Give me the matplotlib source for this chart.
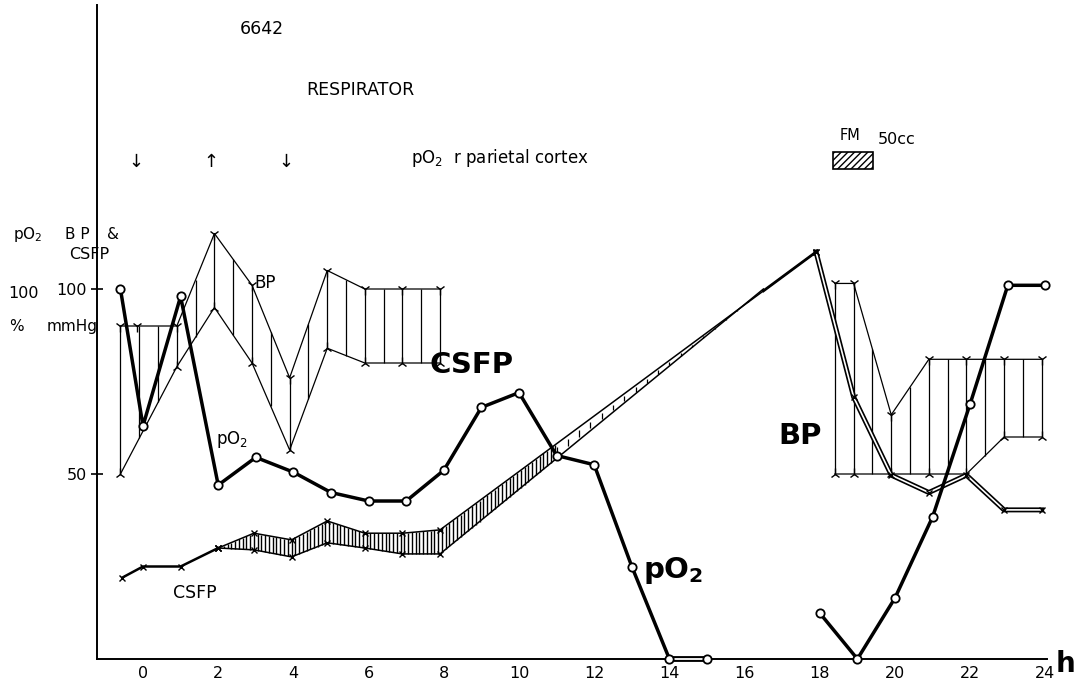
import matplotlib
matplotlib.use("Agg")
import matplotlib.pyplot as plt
import matplotlib.patheffects as pe
from matplotlib.patches import Rectangle
import numpy as np

plt.rcParams['font.family'] = ['DejaVu Sans']

# ---------------- data (hours, values) ----------------
po2_a_hours = [-0.6, 0, 1, 2, 3, 4, 5, 6, 7, 8, 9, 10, 11, 12, 13, 14]
po2_a_vals = [100, 63, 98, 47, 54.5, 50.5, 45, 42.7, 42.7, 51, 68, 72, 55, 52.5, 25, 0]
po2_flat_hours = [14, 15]
po2_flat_vals = [0, 0]
po2_b_hours = [18, 19, 20, 21, 22, 23, 24]
po2_b_vals = [12.4, 0, 16.5, 38.4, 69, 101, 101]

bp_a_upper_hours = [-0.6, -0.15, 0.9, 1.9, 2.9, 3.9, 4.9, 5.9, 6.9, 7.9]
bp_a_upper_vals = [90, 90, 90, 115, 101, 76, 105, 100, 100, 100]
bp_a_lower_hours = [-0.6, 0.9, 1.9, 2.9, 3.9, 4.9, 5.9, 6.9, 7.9]
bp_a_lower_vals = [50, 79, 95, 80, 56.5, 84, 80, 80, 80]

bp_b_upper_hours = [18.4, 18.9, 19.9, 20.9, 21.9, 22.9, 23.9]
bp_b_upper_vals = [101.5, 101.5, 66, 81, 81, 81, 81]
bp_b_lower_hours = [18.4, 18.9, 19.9, 20.9, 21.9, 22.9, 23.9]
bp_b_lower_vals = [50, 50, 50, 50, 50, 60, 60]

csfp_base_hours = [-0.55, 0, 1, 2]
csfp_base_vals = [22, 25, 25, 30]
csfp_upper_hours = [2, 2.95, 3.95, 4.9, 5.9, 6.9, 7.9, 17.9]
csfp_upper_vals = [30, 34, 32.2, 37.3, 34, 34, 34.9, 110]
csfp_lower_hours = [2, 2.95, 3.95, 4.9, 5.9, 6.9, 7.9, 16.5]
csfp_lower_vals = [30, 29.5, 27.6, 31.4, 30, 28.4, 28.4, 100]
csfp_b_hours = [17.9, 18.9, 19.9, 20.9, 21.9, 22.9, 23.9]
csfp_b_vals = [110, 70.8, 49.7, 45, 49.7, 40.3, 40.3]

x_ticks = [0, 2, 4, 6, 8, 10, 12, 14, 16, 18, 20, 22, 24]
x_tick_labels = ['0', '2', '4', '6', '8', '10', '12', '14', '16', '18', '20', '22', '24']
y_ticks = [50, 100]
y_tick_labels = ['50', '100']

resp_arrow_hours = [-0.2, 1.8, 3.8]
resp_arrow_symbols = ['↓', '↑', '↓']

# ---------------- figure ----------------
W, H = 1088, 687
fig = plt.figure(figsize=(W / 100, H / 100), dpi=100)
X0, SX = 143.0, 37.6   # pixel of hour 0, pixels per hour
Y0, SY = 659.0, 3.7    # pixel of value 0, pixels per unit
ax = fig.add_axes([97 / W, (H - Y0) / H, 1 - 97 / W, (Y0 - 5) / H])
ax.set_xlim((97 - X0) / SX, (W - X0) / SX)
ax.set_ylim(0, (Y0 - 5) / SY)


def P(x, y):
    return (x / W, 1 - y / H)


K = 'black'
thin = 0.9

# ---- BP band, first part ----
ax.plot(bp_a_upper_hours, bp_a_upper_vals, color=K, lw=thin, marker='1', ms=8, mew=1)
ax.plot(bp_a_lower_hours, bp_a_lower_vals, color=K, lw=thin, marker='2', ms=8, mew=1)
xs = np.arange(-0.6, 7.95, 0.5)
ax.vlines(xs, np.interp(xs, bp_a_lower_hours, bp_a_lower_vals),
          np.interp(xs, bp_a_upper_hours, bp_a_upper_vals), color=K, lw=thin)

# ---- BP band, second part ----
ax.plot(bp_b_upper_hours, bp_b_upper_vals, color=K, lw=thin, marker='1', ms=8, mew=1)
ax.plot(bp_b_lower_hours, bp_b_lower_vals, color=K, lw=thin, marker='2', ms=8, mew=1)
xs = np.arange(18.4, 23.95, 0.5)
ax.vlines(xs, np.interp(xs, bp_b_lower_hours, bp_b_lower_vals),
          np.interp(xs, bp_b_upper_hours, bp_b_upper_vals), color=K, lw=thin)

# ---- CSFP ----
ax.plot(csfp_base_hours, csfp_base_vals, color=K, lw=1.8, marker='x', ms=5, mew=1)
ax.plot(csfp_upper_hours, csfp_upper_vals, color=K, lw=1.1, marker='x', ms=5, mew=1)
ax.plot(csfp_lower_hours[:-1], csfp_lower_vals[:-1], color=K, lw=1.1, marker='x', ms=5, mew=1)
ax.plot(csfp_lower_hours[-2:], csfp_lower_vals[-2:], color=K, lw=1.1)
xs = np.arange(2.05, 11.0, 0.1)
ax.vlines(xs, np.interp(xs, csfp_lower_hours, csfp_lower_vals),
          np.interp(xs, csfp_upper_hours, csfp_upper_vals), color=K, lw=1.0)
xs = np.arange(11.0, 16.3, 0.3)
lo = np.interp(xs, csfp_lower_hours, csfp_lower_vals)
hi = np.interp(xs, csfp_upper_hours, csfp_upper_vals)
ax.vlines(xs, lo + 0.25 * (hi - lo), hi - 0.25 * (hi - lo), color=K, lw=0.9)
# thick single segment from convergence to the peak
conv_h = csfp_lower_hours[-1]
ax.plot([conv_h, csfp_upper_hours[-1]],
        [np.interp(conv_h, csfp_upper_hours, csfp_upper_vals), csfp_upper_vals[-1]],
        color=K, lw=2.0)

# second part, double line
ax.plot(csfp_b_hours, csfp_b_vals, color='white', lw=1.2, zorder=4,
        path_effects=[pe.Stroke(linewidth=3.6, foreground=K), pe.Normal()])
ax.plot(csfp_b_hours, csfp_b_vals, ls='none', marker='x', ms=5, mew=1, color=K, zorder=5)

# ---- pO2 ----
po2_style = dict(color=K, lw=2.5, marker='o', ms=6, mfc='white', mec=K, mew=1.3,
                 zorder=6, clip_on=False)
ax.plot(po2_a_hours, po2_a_vals, **po2_style)
ax.plot(po2_flat_hours, po2_flat_vals, color='white', lw=1.3, zorder=5, clip_on=False,
        path_effects=[pe.Stroke(linewidth=4.2, foreground=K), pe.Normal()])
ax.plot(po2_flat_hours[-1:], po2_flat_vals[-1:], ls='none', marker='o', ms=6,
        mfc='white', mec=K, mew=1.3, zorder=6, clip_on=False)
ax.plot(po2_b_hours, po2_b_vals, **po2_style)

# ---------------- axes styling ----------------
for s in ['top', 'right']:
    ax.spines[s].set_visible(False)
ax.spines['left'].set_linewidth(1.4)
ax.spines['bottom'].set_linewidth(1.4)
ax.spines['bottom'].set_bounds(ax.get_xlim()[0], 24.05)
ax.set_xticks(x_ticks)
ax.set_xticklabels(x_tick_labels, fontsize=11.5)
ax.tick_params(axis='x', length=0, pad=5)
ax.set_yticks(y_ticks)
ax.set_yticklabels(y_tick_labels, fontsize=11.5)
ax.tick_params(axis='y', direction='inout', length=9, width=1.2, pad=3)

# ---------------- text annotations ----------------
fig.text(*P(262, 29), '6642', fontsize=12.5, ha='center', va='center')
fig.text(*P(360, 90), 'RESPIRATOR', fontsize=12.5, ha='center', va='center')
for h, sym in zip(resp_arrow_hours, resp_arrow_symbols):
    ax.text(h, (Y0 - 162) / SY, sym, fontsize=13, ha='center', va='center')
fig.text(*P(411, 158), r'p$\mathregular{O_2}$  r parietal cortex', fontsize=12,
         ha='left', va='center')
fig.text(*P(840, 136), 'FM', fontsize=10.5, ha='left', va='center')
fig.text(*P(878, 140), '50cc', fontsize=11.5, ha='left', va='center')
ax.add_patch(Rectangle(((833 - X0) / SX, (Y0 - 169) / SY), 40 / SX, 17 / SY,
                       facecolor='white', edgecolor=K, hatch='/////', lw=1.2,
                       clip_on=False))

# y-axis legend text
fig.text(*P(28, 235), r'p$\mathregular{O_2}$', fontsize=11, ha='center', va='center')
fig.text(*P(77, 235), 'B P', fontsize=11, ha='center', va='center')
fig.text(*P(113, 235), '&', fontsize=11, ha='center', va='center')
fig.text(*P(89, 254), 'CSFP', fontsize=11.5, ha='center', va='center')
fig.text(*P(23, 294), '100', fontsize=11.5, ha='center', va='center')
fig.text(*P(16, 326), '%', fontsize=11, ha='center', va='center')
fig.text(*P(72, 326), 'mmHg', fontsize=11, ha='center', va='center')

# series labels in the plot
ax.text((265 - X0) / SX, (Y0 - 283) / SY, 'BP', fontsize=12, ha='center', va='center')
ax.text((232 - X0) / SX, (Y0 - 440) / SY, r'p$\mathregular{O_2}$', fontsize=12,
        ha='center', va='center')
ax.text((195 - X0) / SX, (Y0 - 593) / SY, 'CSFP', fontsize=12.5, ha='center', va='center')
ax.text((472 - X0) / SX, (Y0 - 365) / SY, 'CSFP', fontsize=21, fontweight='bold',
        ha='center', va='center')
ax.text((673 - X0) / SX, (Y0 - 570) / SY, r'p$\mathregular{O_2}$', fontsize=21,
        fontweight='bold', ha='center', va='center')
ax.text((800 - X0) / SX, (Y0 - 436) / SY, 'BP', fontsize=21, fontweight='bold',
        ha='center', va='center')
fig.text(*P(1066, 664), 'h', fontsize=20, fontweight='bold', ha='center', va='center')

fig.savefig('out.png', dpi=100)
